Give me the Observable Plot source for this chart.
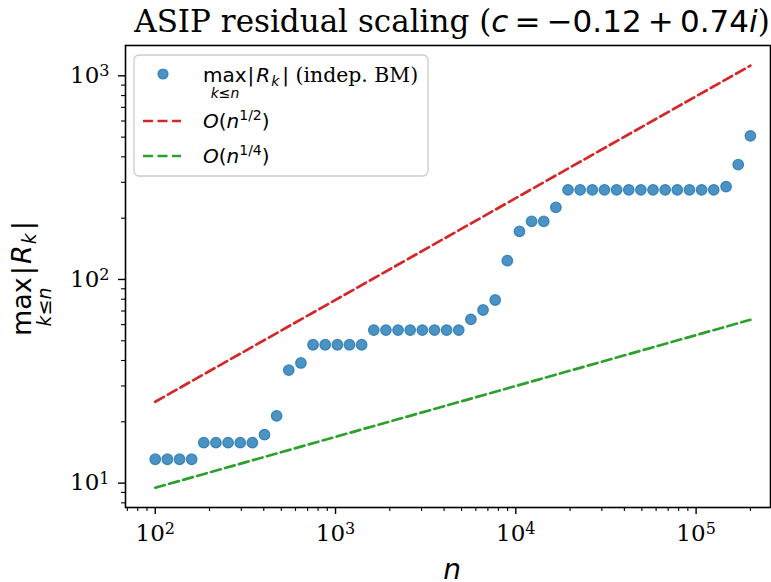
<!DOCTYPE html>
<html><head><meta charset="utf-8">
<script src="https://cdn.jsdelivr.net/npm/d3@7"></script>
<script src="https://cdn.jsdelivr.net/npm/@observablehq/plot@0.6"></script>
<style>body{margin:0;background:#fff} #chart svg{display:block}</style>
</head><body><div id="chart"></div>
<script>
// sample sizes n (log-spaced, 100 .. 2e5)
const nValues = [100, 116.8, 136.4, 159.2, 185.9, 217.1, 253.5, 296.1, 345.7, 403.7,
  471.4, 550.5, 642.8, 750.6, 876.5, 1024.5, 1195, 1396, 1630, 1903,
  2222, 2595, 3030, 3539, 4132, 4825, 5635, 6580, 7684, 8972,
  10477, 12235, 14287, 16683, 19481, 22749, 26565, 31021, 36224, 42300,
  49395, 57680, 67355, 78653, 91846, 107250, 125240, 146650, 171250, 200000];
// max_{k<=n} |R_k|
const maxResidual = [13.1, 13.1, 13.1, 13.1, 15.8, 15.8, 15.8, 15.8, 15.8, 17.3,
  21.4, 35.9, 38.9, 47.8, 47.8, 47.8, 47.8, 47.8, 56.4, 56.4,
  56.4, 56.4, 56.4, 56.4, 56.4, 56.4, 63.7, 70.8, 79.3, 123.7,
  172.4, 193, 193, 226.1, 275.4, 275.4, 275.4, 275.4, 275.4, 275.4,
  275.4, 275.4, 275.4, 275.4, 275.4, 275.4, 275.4, 285.8, 366.6, 507.3];
// reference lines (endpoints)
const refN = [100, 200000];
const sqrtRef = [25.1, 1122];
const quarterRef = [9.49, 63.4];
// ticks
const xMajorTicks = [100, 1000, 10000, 100000];
const yMajorTicks = [10, 100, 1000];
const xDomain = [68.4, 258600];
const yDomain = [7.59, 1409];

const minorTicks = (dom) => {
  const out = [];
  for (let e = -1; e <= 6; e++) for (let m = 2; m <= 9; m++) {
    const v = m * Math.pow(10, e);
    if (v >= dom[0] && v <= dom[1]) out.push(v);
  }
  return out;
};

const points = nValues.map((n, i) => ({n, v: maxResidual[i]}));
const red = refN.map((n, i) => ({n, v: sqrtRef[i]}));
const green = refN.map((n, i) => ({n, v: quarterRef[i]}));
const fmt = d => "10^" + Math.round(Math.log10(d));
const DASH = "10,4.5", LW = 2.7;

const W = 771, H = 582, ML = 125, MR = 1, MT = 45, MB = 75;
const plot = Plot.plot({
  width: W, height: H,
  marginLeft: ML, marginRight: MR, marginTop: MT, marginBottom: MB,
  style: {fontFamily: "DejaVu Serif", fontSize: "23px", color: "black", background: "white", overflow: "visible"},
  x: {type: "log", domain: xDomain, axis: null},
  y: {type: "log", domain: yDomain, axis: null},
  marks: [
    Plot.axisX(xMajorTicks, {anchor: "bottom", tickSize: 7, tickPadding: 10, strokeWidth: 1.4, tickFormat: fmt, fontSize: 23, label: null}),
    Plot.axisX(minorTicks(xDomain), {anchor: "bottom", tickSize: 4, strokeWidth: 1.1, tickFormat: () => "", label: null}),
    Plot.axisY(yMajorTicks, {anchor: "left", tickSize: 7, tickPadding: 9, strokeWidth: 1.4, tickFormat: fmt, fontSize: 23, label: null}),
    Plot.axisY(minorTicks(yDomain), {anchor: "left", tickSize: 4, strokeWidth: 1.1, tickFormat: () => "", label: null}),
    Plot.line(red, {x: "n", y: "v", stroke: "#d62728", strokeWidth: LW, strokeDasharray: DASH}),
    Plot.line(green, {x: "n", y: "v", stroke: "#2ca02c", strokeWidth: LW, strokeDasharray: DASH}),
    Plot.dot(points, {x: "n", y: "v", r: 5.3, fill: "#1f77b4", fillOpacity: 0.8, stroke: "#1f77b4", strokeOpacity: 0.8, strokeWidth: 1.2}),
    Plot.frame({stroke: "black", strokeWidth: 1.6})
  ]
});
document.getElementById("chart").appendChild(plot);

const svg = d3.select(plot);
// superscript tick labels
svg.selectAll("text").each(function() {
  const t = this.textContent;
  const m = /^10\^(\d+)$/.exec(t);
  if (m) {
    const el = d3.select(this);
    el.text("10").attr("font-family", "DejaVu Serif").attr("font-size", 23);
    el.append("tspan").attr("dy", "-0.42em").attr("font-size", "16px").text(m[1]);
  }
});

const SANS = "DejaVu Sans", SERIF = "DejaVu Serif";
// Title
const title = svg.append("text").attr("x", 452).attr("y", 32).attr("text-anchor", "middle").attr("font-size", 31).attr("fill", "black");
title.append("tspan").attr("font-family", SERIF).text("ASIP residual scaling (");
title.append("tspan").attr("font-family", SANS).attr("font-style", "italic").text("c");
title.append("tspan").attr("font-family", SANS).text("\u2009=\u2009\u22120.12\u2009+\u20090.74");
title.append("tspan").attr("font-family", SANS).attr("font-style", "italic").text("i");
title.append("tspan").attr("font-family", SERIF).text(")");

// x label
svg.append("text").attr("x", 452).attr("y", 579).attr("text-anchor", "middle")
  .attr("font-family", SANS).attr("font-style", "italic").attr("font-size", 28).attr("fill", "black").text("n");

// y label (rotated)
const yl = svg.append("g").attr("transform", "translate(31,276) rotate(-90)");
const ylt = yl.append("text").attr("x", -60).attr("y", 0).attr("text-anchor", "start").attr("font-family", SANS).attr("font-size", 27).attr("fill", "black");
ylt.append("tspan").text("max");
ylt.append("tspan").attr("dx", 2).text("|");
ylt.append("tspan").attr("dx", 2).attr("font-style", "italic").text("R");
ylt.append("tspan").attr("dx", 1).attr("font-style", "italic").attr("font-size", 19).attr("dy", 5).text("k");
ylt.append("tspan").attr("dx", 3).attr("dy", -5).text("|");
yl.append("text").attr("x", -60 + 29).attr("y", 20).attr("text-anchor", "middle").attr("font-family", SANS)
  .attr("font-style", "italic").attr("font-size", 19).attr("fill", "black").text("k\u2264n");

// Legend
const lg = svg.append("g").attr("text-anchor", "start");
lg.append("rect").attr("x", 134).attr("y", 55).attr("width", 294).attr("height", 121).attr("rx", 5)
  .attr("fill", "white").attr("fill-opacity", 0.8).attr("stroke", "#cccccc").attr("stroke-width", 1.3);
lg.append("circle").attr("cx", 163).attr("cy", 74).attr("r", 5).attr("fill", "#1f77b4").attr("fill-opacity", 0.8)
  .attr("stroke", "#1f77b4").attr("stroke-opacity", 0.8).attr("stroke-width", 1.2);
const l1 = lg.append("text").attr("x", 203).attr("y", 82).attr("text-anchor", "start").attr("font-size", 20).attr("fill", "black");
l1.append("tspan").attr("font-family", SANS).text("max");
l1.append("tspan").attr("font-family", SANS).attr("dx", 1).text("|");
l1.append("tspan").attr("font-family", SANS).attr("dx", 2).attr("font-style", "italic").text("R");
l1.append("tspan").attr("font-family", SANS).attr("dx", 1).attr("font-style", "italic").attr("font-size", 14).attr("dy", 4).text("k");
l1.append("tspan").attr("font-family", SANS).attr("dx", 3).attr("dy", -4).text("|");
l1.append("tspan").attr("font-family", SERIF).attr("font-size", 20.4).text(" (indep. BM)");
lg.append("text").attr("x", 203 + 22).attr("y", 98).attr("text-anchor", "middle").attr("font-family", SANS)
  .attr("font-style", "italic").attr("font-size", 14).attr("fill", "black").text("k\u2264n");

const legendLine = (y, color, sup) => {
  lg.append("line").attr("x1", 143).attr("x2", 181).attr("y1", y).attr("y2", y)
    .attr("stroke", color).attr("stroke-width", LW).attr("stroke-dasharray", DASH);
  const t = lg.append("text").attr("x", 203).attr("y", y + 7).attr("text-anchor", "start").attr("font-family", SANS).attr("font-size", 20).attr("fill", "black");
  t.append("tspan").attr("font-style", "italic").text("O");
  t.append("tspan").text("(");
  t.append("tspan").attr("font-style", "italic").text("n");
  t.append("tspan").attr("font-size", 14).attr("dy", -8).text(sup);
  t.append("tspan").attr("dy", 8).text(")");
};
legendLine(121, "#d62728", "1/2");
legendLine(156, "#2ca02c", "1/4");
</script>
</body></html>
